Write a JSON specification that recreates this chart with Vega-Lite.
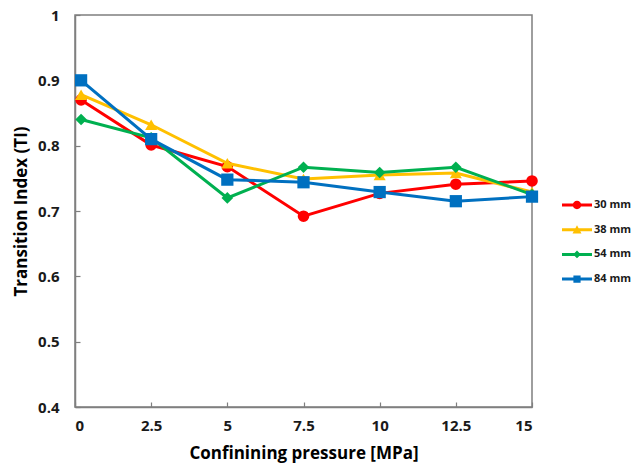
{
  "$schema": "https://vega.github.io/schema/vega-lite/v6.json",
  "width": 457,
  "height": 392,
  "autosize": "none",
  "padding": {"left": 75, "top": 15, "right": 100, "bottom": 60},
  "background": "white",
  "config": {
    "view": {"stroke": "#7f7f7f", "strokeWidth": 1.5},
    "font": "Open Sans",
    "axis": {
      "grid": false,
      "domainColor": "#7f7f7f",
      "domainWidth": 1.5,
      "tickColor": "#7f7f7f",
      "tickWidth": 1.2,
      "tickSize": -5,
      "labelFont": "Open Sans",
      "labelFontWeight": "bold",
      "labelFontSize": 15,
      "labelColor": "#1a1a1a",
      "titleFont": "Open Sans",
      "titleFontWeight": "bold",
      "titleFontSize": 17,
      "titleColor": "#000000"
    },
    "legend": {
      "labelFont": "Open Sans",
      "labelFontWeight": "bold",
      "labelFontSize": 11,
      "labelColor": "#1a1a1a"
    }
  },
  "data": {
    "values": [
      {"p": 0.2, "ti": 0.870, "series": "30 mm"},
      {"p": 2.5, "ti": 0.801, "series": "30 mm"},
      {"p": 5, "ti": 0.768, "series": "30 mm"},
      {"p": 7.5, "ti": 0.692, "series": "30 mm"},
      {"p": 10, "ti": 0.727, "series": "30 mm"},
      {"p": 12.5, "ti": 0.741, "series": "30 mm"},
      {"p": 15, "ti": 0.746, "series": "30 mm"},
      {"p": 0.2, "ti": 0.878, "series": "38 mm"},
      {"p": 2.5, "ti": 0.832, "series": "38 mm"},
      {"p": 5, "ti": 0.773, "series": "38 mm"},
      {"p": 7.5, "ti": 0.749, "series": "38 mm"},
      {"p": 10, "ti": 0.755, "series": "38 mm"},
      {"p": 12.5, "ti": 0.758, "series": "38 mm"},
      {"p": 15, "ti": 0.729, "series": "38 mm"},
      {"p": 0.2, "ti": 0.840, "series": "54 mm"},
      {"p": 2.5, "ti": 0.812, "series": "54 mm"},
      {"p": 5, "ti": 0.720, "series": "54 mm"},
      {"p": 7.5, "ti": 0.767, "series": "54 mm"},
      {"p": 10, "ti": 0.759, "series": "54 mm"},
      {"p": 12.5, "ti": 0.767, "series": "54 mm"},
      {"p": 15, "ti": 0.725, "series": "54 mm"},
      {"p": 0.2, "ti": 0.900, "series": "84 mm"},
      {"p": 2.5, "ti": 0.810, "series": "84 mm"},
      {"p": 5, "ti": 0.748, "series": "84 mm"},
      {"p": 7.5, "ti": 0.744, "series": "84 mm"},
      {"p": 10, "ti": 0.729, "series": "84 mm"},
      {"p": 12.5, "ti": 0.715, "series": "84 mm"},
      {"p": 15, "ti": 0.722, "series": "84 mm"}
    ]
  },
  "encoding": {
    "x": {
      "field": "p",
      "type": "quantitative",
      "scale": {"domain": [0, 15], "nice": false, "zero": false},
      "axis": {"values": [0, 2.5, 5, 7.5, 10, 12.5, 15], "format": ".1~f", "labelPadding": 16, "title": "Confinining pressure [MPa]", "titlePadding": 12}
    },
    "y": {
      "field": "ti",
      "type": "quantitative",
      "scale": {"domain": [0.4, 1], "nice": false, "zero": false},
      "axis": {"values": [0.4, 0.5, 0.6, 0.7, 0.8, 0.9, 1], "format": ".1~f", "labelPadding": 21, "title": "Transition Index (TI)", "titlePadding": 7}
    }
  },
  "layer": [
    {
      "transform": [{"filter": "datum.series == '30 mm'"}],
      "layer": [
        {"mark": {"type": "line", "strokeWidth": 3, "color": "#ff0000"}, "encoding": {}},
        {"mark": {"type": "point", "shape": "circle", "filled": true, "opacity": 1, "size": 135, "color": "#ff0000"}}
      ]
    },
    {
      "transform": [{"filter": "datum.series == '38 mm'"}],
      "layer": [
        {"mark": {"type": "line", "strokeWidth": 3, "color": "#ffc000"}, "encoding": {}},
        {"mark": {"type": "point", "shape": "triangle-up", "filled": true, "opacity": 1, "size": 145, "color": "#ffc000"}}
      ]
    },
    {
      "transform": [{"filter": "datum.series == '54 mm'"}],
      "layer": [
        {"mark": {"type": "line", "strokeWidth": 3, "color": "#00b050"}, "encoding": {}},
        {"mark": {"type": "point", "shape": "diamond", "filled": true, "opacity": 1, "size": 135, "color": "#00b050"}}
      ]
    },
    {
      "transform": [{"filter": "datum.series == '84 mm'"}],
      "layer": [
        {"mark": {"type": "line", "strokeWidth": 3, "color": "#0070c0"}, "encoding": {}},
        {"mark": {"type": "point", "shape": "square", "filled": true, "opacity": 1, "size": 150, "color": "#0070c0"}}
      ]
    },
    {
      "transform": [{"filter": "datum.p < 0"}],
      "mark": {"type": "point", "filled": true, "opacity": 1, "size": 900, "strokeWidth": 0},
      "encoding": {
        "fill": {
          "field": "series",
          "type": "nominal",
          "scale": {"domain": ["30 mm", "38 mm", "54 mm", "84 mm"], "range": ["#ff0000", "#ffc000", "#00b050", "#0070c0"]},
          "legend": {
            "title": null,
            "orient": "none",
            "legendX": 487,
            "legendY": 180,
            "padding": 0,
            "symbolSize": 900,
            "symbolStrokeWidth": 0,
            "symbolOpacity": 1,
            "clipHeight": 20,
            "rowPadding": 4.7,
            "labelOffset": 2
          }
        },
        "shape": {
          "field": "series",
          "type": "nominal",
          "scale": {
            "domain": ["30 mm", "38 mm", "54 mm", "84 mm"],
            "range": [
              "M-1,-0.1H1V0.1H-1Z M-0.28,0A0.28,0.28 0 1,1 0.28,0A0.28,0.28 0 1,1 -0.28,0Z",
              "M-1,-0.1H1V0.1H-1Z M-0.3,0.25L0,-0.3L0.3,0.25Z",
              "M-1,-0.1H1V0.1H-1Z M0,-0.26L0.26,0L0,0.26L-0.26,0Z",
              "M-1,-0.1H1V0.1H-1Z M-0.24,-0.24H0.24V0.24H-0.24Z"
            ]
          }
        }
      }
    }
  ]
}
